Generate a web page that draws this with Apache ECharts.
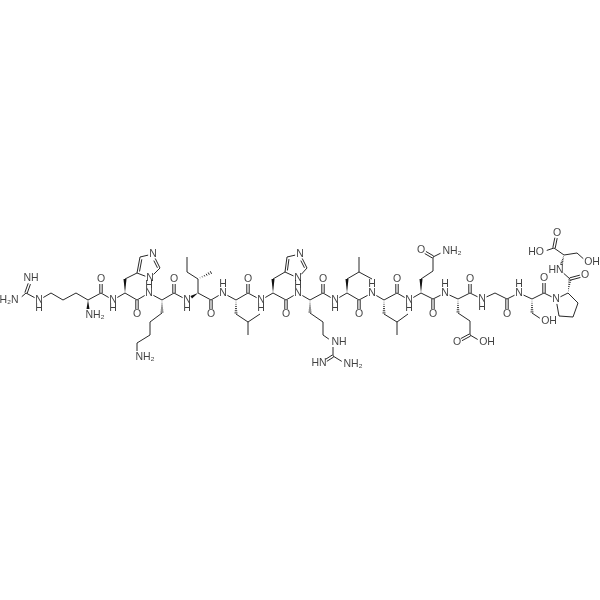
<!DOCTYPE html>
<html><head><meta charset="utf-8">
<style>html,body{margin:0;padding:0;background:#fff}#c{width:600px;height:600px}</style>
<script src="https://cdn.jsdelivr.net/npm/echarts@6/dist/echarts.min.js"></script>
</head><body><div id="c"></div>
<script>
// Atoms: [id, x, y, gap] - gap is the space a bond leaves around a lettered atom
const atoms = [
 // Arg 1
 ['a1',18,300,5],['a2',26,293,0],['a3',31,279,5],['a4',39,300,5],['a5',51,293,0],['a6',63,300,0],['a7',76,293,0],['a8',88,300,0],['a9',88,314,5],['a10',101,293,0],['a11',101,279,5],
 // His 2
 ['b1',113,300,5],['b2',125,293,0],['b3',125,279,0],['b4',137,273,0],['b5',140,257,0],['b6',153,254,5],['b7',160,268,0],['b8',150,278,5],['b9',137,300,0],['b10',137,314,5],
 // Lys 3
 ['c1',149,293,5],['c2',162,300,0],['c3',162,313,0],['c4',150,322,0],['c5',150,335,0],['c6',137,343,0],['c7',137,356,5],['c8',174,293,0],['c9',174,279,5],
 // Ile 4
 ['d1',187,300,5],['d2',198,293,0],['d3',198,279,0],['d4',212,272,0],['d5',187,272,0],['d6',187,257,0],['d7',211,300,0],['d8',211,314,5],
 // Leu 5
 ['e1',223,293,5],['e2',236,300,0],['e3',236,314,0],['e4',248,322,0],['e5',260,314,0],['e6',248,335,0],['e7',248,293,0],['e8',248,279,5],
 // His 6
 ['f1',261,300,5],['f2',273,293,0],['f3',273,279,0],['f4',285,272,0],['f5',287,257,0],['f6',300,254,5],['f7',307,268,0],['f8',298,278,5],['f9',286,300,0],['f10',286,314,5],
 // Arg 7
 ['g1',298,293,5],['g2',310,300,0],['g3',310,313,0],['g4',323,322,0],['g5',323,335,0],['g6',333,342,5],['g7',333,356,0],['g8',322,363,5],['g9',346,364,5],['g10',323,293,0],['g11',323,279,5],
 // Leu 8
 ['h1',335,300,5],['h2',347,293,0],['h3',347,279,0],['h4',359,272,0],['h5',359,257,0],['h6',372,279,0],['h7',359,300,0],['h8',359,314,5],
 // Leu 9
 ['i1',372,293,5],['i2',384,300,0],['i3',384,314,0],['i4',397,322,0],['i5',408,314,0],['i6',397,335,0],['i7',397,293,0],['i8',397,279,5],
 // Gln 10
 ['j1',409,300,5],['j2',421,293,0],['j3',421,279,0],['j4',433,271,0],['j5',433,257,0],['j6',421,250,5],['j7',445,251,5],['j8',433,299,0],['j9',433,314,5],
 // Glu 11
 ['k1',445,293,5],['k2',458,299,0],['k3',458,313,0],['k4',470,321,0],['k5',470,335,0],['k6',457,342,5],['k7',482,342,5],['k8',470,293,0],['k9',470,279,5],
 // Gly 12
 ['l1',482,299,5],['l2',495,293,0],['l3',507,299,0],['l4',507,314,5],
 // Ser 13
 ['m1',519,293,5],['m2',532,299,0],['m3',532,313,0],['m4',544,321,5],['m5',544,293,0],['m6',544,278,5],
 // Pro 14
 ['n1',556,299,5],['n2',568,293,0],['n3',578,303,0],['n4',573,317,0],['n5',559,316,0],['n6',570,279,0],['n7',585,275,5],
 // Ser 15
 ['o1',560,270,5],['o2',564,255,0],['o3',554,248,0],['o4',557,233,5],['o5',542,252,5],['o6',577,253,0],['o7',587,262,5]
];
// Bonds: [from, to, kind] s single, d double, r ring double (inner line, side sign), w wedge, h hash
const bonds = [
 ['a1','a2','s'],['a2','a3','d'],['a2','a4','s'],['a4','a5','s'],['a5','a6','s'],['a6','a7','s'],['a7','a8','s'],['a8','a9','w'],['a8','a10','s'],['a10','a11','d'],['a10','b1','s'],
 ['b1','b2','s'],['b2','b3','w'],['b3','b4','s'],['b4','b5','r+'],['b5','b6','s'],['b6','b7','r+'],['b7','b8','s'],['b8','b4','s'],['b2','b9','s'],['b9','b10','d'],['b9','c1','s'],
 ['c1','c2','s'],['c2','c3','h'],['c3','c4','s'],['c4','c5','s'],['c5','c6','s'],['c6','c7','s'],['c2','c8','s'],['c8','c9','d'],['c8','d1','s'],
 ['d2','d1','w'],['d2','d3','s'],['d3','d4','h'],['d3','d5','s'],['d5','d6','s'],['d2','d7','s'],['d7','d8','d'],['d7','e1','s'],
 ['e1','e2','s'],['e2','e3','h'],['e3','e4','s'],['e4','e5','s'],['e4','e6','s'],['e2','e7','s'],['e7','e8','d'],['e7','f1','s'],
 ['f1','f2','s'],['f2','f3','w'],['f3','f4','s'],['f4','f5','r+'],['f5','f6','s'],['f6','f7','r+'],['f7','f8','s'],['f8','f4','s'],['f2','f9','s'],['f9','f10','d'],['f9','g1','s'],
 ['g1','g2','s'],['g2','g3','h'],['g3','g4','s'],['g4','g5','s'],['g5','g6','s'],['g6','g7','s'],['g7','g8','d'],['g7','g9','s'],['g2','g10','s'],['g10','g11','d'],['g10','h1','s'],
 ['h1','h2','s'],['h2','h3','w'],['h3','h4','s'],['h4','h5','s'],['h4','h6','s'],['h2','h7','s'],['h7','h8','d'],['h7','i1','s'],
 ['i1','i2','s'],['i2','i3','h'],['i3','i4','s'],['i4','i5','s'],['i4','i6','s'],['i2','i7','s'],['i7','i8','d'],['i7','j1','s'],
 ['j1','j2','s'],['j2','j3','w'],['j3','j4','s'],['j4','j5','s'],['j5','j6','d'],['j5','j7','s'],['j2','j8','s'],['j8','j9','d'],['j8','k1','s'],
 ['k1','k2','s'],['k2','k3','h'],['k3','k4','s'],['k4','k5','s'],['k5','k6','d'],['k5','k7','s'],['k2','k8','s'],['k8','k9','d'],['k8','l1','s'],
 ['l1','l2','s'],['l2','l3','s'],['l3','l4','d'],['l3','m1','s'],
 ['m1','m2','s'],['m2','m3','h'],['m3','m4','s'],['m2','m5','s'],['m5','m6','d'],['m5','n1','s'],
 ['n1','n2','s'],['n2','n3','s'],['n3','n4','s'],['n4','n5','s'],['n5','n1','s'],['n2','n6','h'],['n6','n7','d'],['n6','o1','s'],
 ['o2','o1','h'],['o2','o3','s'],['o3','o4','d'],['o3','o5','s'],['o2','o6','s'],['o6','o7','s']
];
// Atom text: [text, x, y]
const atomLabels = [
 ['H₂N',9,300],['NH',31,278],['N',39,300],['H',39,308.5],['NH₂',95,315],['O',101,279],['N',113,300],['H',113,308.5],
 ['N',153,254],['N',150,278],['H',149,285],['O',137,314],['N',149,293],['NH₂',145,357],['O',174,279],['N',187,300],['H',187,308.5],
 ['O',211,314],['N',223,293],['H',223,284.5],['O',248,279],['N',261,300],['H',261,308.5],
 ['N',300,254],['N',298,278],['H',298,285],['O',286,314],['N',298,293],['NH',339,342],['HN',319,363.5],['NH₂',353,364],['O',323,279],['N',335,300],['H',335,308.5],
 ['O',359,314],['N',372,293],['H',372,284.5],['O',397,279],['N',409,300],['H',409,308.5],
 ['O',421,250],['NH₂',452,251],['O',433,314],['N',445,293],['H',445,284.5],['O',457,342],['OH',487,342],['O',470,279],['N',482,299],['H',482,307.5],
 ['O',507,314],['N',519,293],['H',519,284.5],['OH',549,321],['O',544,278],['N',556,299],['O',585,275],['HN',556,270],['O',557,233],['HO',536,252],['OH',592,262]
];

const ink = '#111';
const byId = Object.fromEntries(atoms.map(a => [a[0], a]));
const bondRows = bonds.map(b => {
  const p = byId[b[0]], q = byId[b[1]];
  return [p[1], p[2], q[1], q[2], p[3], q[3], b[2]];
});

function renderBond(params, api) {
  const a = api.coord([api.value(0), api.value(1)]);
  const b = api.coord([api.value(2), api.value(3)]);
  const ga = api.value(4), gb = api.value(5), kind = bondRows[params.dataIndex][6];
  const dx = b[0]-a[0], dy = b[1]-a[1], len = Math.hypot(dx,dy), ux = dx/len, uy = dy/len, nx = -uy, ny = ux;
  const p = [a[0]+ux*ga, a[1]+uy*ga], q = [b[0]-ux*gb, b[1]-uy*gb];
  const line = (s,e) => ({type:'line', shape:{x1:s[0],y1:s[1],x2:e[0],y2:e[1]}, style:{stroke:ink, lineWidth:0.9}});
  const off = (pt,d) => [pt[0]+nx*d, pt[1]+ny*d];
  const along = (t) => [p[0]+(q[0]-p[0])*t, p[1]+(q[1]-p[1])*t];
  let children = [];
  if (kind === 's') children = [line(p,q)];
  else if (kind === 'd') children = [line(off(p,1.2),off(q,1.2)), line(off(p,-1.2),off(q,-1.2))];
  else if (kind === 'r+') children = [line(p,q), line(off(along(.12),2.2),off(along(.88),2.2))];
  else if (kind === 'w') children = [{type:'polygon', shape:{points:[p,off(q,1.5),off(q,-1.5)]}, style:{fill:ink}}];
  else if (kind === 'h') {
    for (let i=1;i<=6;i++){ const t=i/6.5, c=along(t), w=1.6*t; children.push(line(off(c,w),off(c,-w))); }
  }
  return {type:'group', children};
}

const chart = echarts.init(document.getElementById('c'), null, {renderer:'canvas'});
chart.setOption({
  animation:false,
  backgroundColor:'#fff',
  grid:{left:0,right:0,top:0,bottom:0},
  xAxis:{type:'value',min:0,max:600,show:false},
  yAxis:{type:'value',min:0,max:600,inverse:true,show:false},
  series:[
    {type:'custom',coordinateSystem:'cartesian2d',silent:true,renderItem:renderBond,
     encode:{x:[0,2],y:[1,3]},data:bondRows.map(r=>r.slice(0,6)),clip:false},
    {type:'scatter',symbolSize:0,silent:true,z:5,
     data:atomLabels.map(l=>({value:[l[1],l[2]],name:l[0]})),
     label:{show:true,position:'inside',formatter:'{b}',color:ink,fontFamily:'"Liberation Sans",Arial,sans-serif',fontSize:10.5}}
  ]
});
</script></body></html>
